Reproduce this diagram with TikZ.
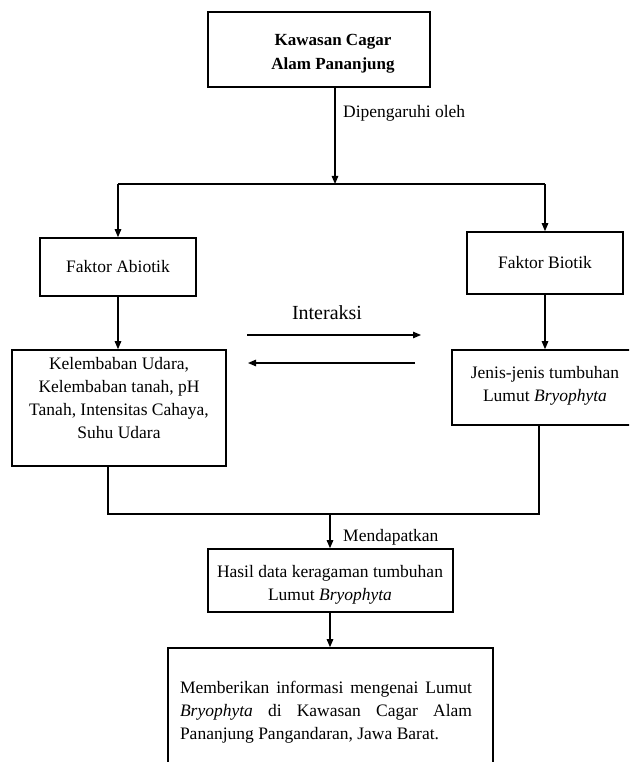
\documentclass[tikz,border=0pt]{standalone}
\usepackage{fontspec}
\setmainfont{Liberation Serif}
\usetikzlibrary{arrows.meta}
\tikzset{
  kotak/.style={draw, line width=1.6pt, inner sep=0pt},
  teks/.style={align=center, font=\fontsize{17.5}{23}\selectfont, inner sep=0pt},
  panah/.style={line width=1.2pt, -{Triangle[length=8pt,width=6.5pt]}},
  garis/.style={line width=1.2pt}
}
\begin{document}
\begin{tikzpicture}[x=1pt,y=-1pt]
\clip (0,0) rectangle (629,762);
% kotak atas
\node[kotak, minimum width=222pt, minimum height=75pt] (kawasan) at (319,49.5) {};
\node[teks, font=\bfseries\fontsize{17}{24}\selectfont] (kawasanT) at (333,54) {Kawasan Cagar\\Alam Pananjung};
\coordinate (cabang) at (335,184);
\draw[panah] (cabang |- kawasan.south) -- (cabang);
\node[teks, anchor=west] (dipengaruhi) at (343,113) {Dipengaruhi oleh};
% faktor
\node[kotak, teks, minimum width=156pt, minimum height=58pt] (abiotik) at (118,267) {Faktor Abiotik};
\node[kotak, teks, minimum width=156pt, minimum height=62pt] (biotik) at (545,263) {Faktor Biotik};
\draw[garis] (abiotik.north |- cabang) -- (biotik.north |- cabang);
\draw[panah] (abiotik.north |- cabang) -- (abiotik.north);
\draw[panah] (biotik.north |- cabang) -- (biotik.north);
% kotak isi
\node[kotak, minimum width=214pt, minimum height=116pt] (kel) at (119,408) {};
\node[teks] (kelT) at (119,398) {Kelembaban Udara,\\Kelembaban tanah, pH\\Tanah, Intensitas Cahaya,\\Suhu Udara};
\node[kotak, minimum width=186pt, minimum height=75pt] (jenis) at (545,387.5) {};
\node[teks] (jenisT) at (545,386) {Jenis-jenis tumbuhan\\Lumut \textit{Bryophyta}};
\draw[panah] (abiotik.south) -- (abiotik.south |- kel.north);
\draw[panah] (biotik.south) -- (biotik.south |- jenis.north);
% interaksi
\node[teks, font=\fontsize{20}{24}\selectfont] (interaksi) at (327,313) {Interaksi};
\coordinate (kanan1) at (247,335);
\coordinate (kanan2) at (421,335);
\coordinate (kiri1) at (415,363);
\coordinate (kiri2) at (248,363);
\draw[panah] (kanan1) -- (kanan2);
\draw[panah] (kiri1) -- (kiri2);
% hasil
\coordinate (gabung) at (330,514);
\draw[garis] ([xshift=-11pt]kel.south) |- (gabung) -| ([xshift=-6pt]jenis.south);
\node[kotak, minimum width=245pt, minimum height=63pt] (hasil) at (330.5,580.5) {};
\node[teks] (hasilT) at (330,585) {Hasil data keragaman tumbuhan\\Lumut \textit{Bryophyta}};
\draw[panah] (gabung) -- (gabung |- hasil.north);
\node[teks, anchor=west] (mendapatkan) at (343,537) {Mendapatkan};
\node[kotak, minimum width=325pt, minimum height=128pt] (info) at (330.5,712) {};
\node[teks, align=justify, text width=292pt] (infoT) at (326,712) {Memberikan informasi mengenai Lumut\linebreak \textit{Bryophyta} di Kawasan Cagar Alam\linebreak Pananjung Pangandaran, Jawa Barat.};
\draw[panah] (gabung |- hasil.south) -- (gabung |- info.north);
\end{tikzpicture}
\end{document}
